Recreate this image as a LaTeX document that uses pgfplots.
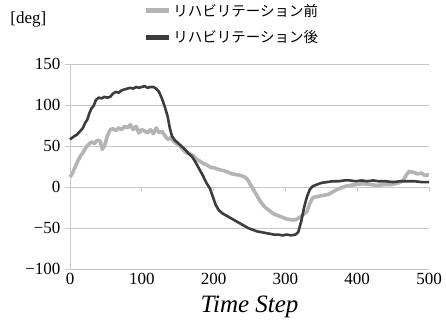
\documentclass[border=0pt]{standalone}
\usepackage{pgfplots}
\pgfplotsset{compat=1.18}
\usepackage{fontspec}
\setmainfont{Liberation Serif}
\newfontfamily\cjk{Noto Sans CJK JP}
\definecolor{before}{HTML}{B4B4B4}
\definecolor{after}{HTML}{3C3C3C}
\definecolor{gridc}{HTML}{C8C8C8}
\begin{document}
\begin{tikzpicture}
\begin{axis}[
  scale only axis, width=359pt, height=205pt,
  xmin=0, xmax=500, ymin=-100, ymax=150,
  xtick={0,100,...,500}, ytick={-100,-50,...,150},
  yticklabels={−100,−50,0,50,100,150},
  xticklabels={0,100,200,300,400,500},
  axis x line*=bottom, axis y line*=left,
  axis line style={gridc, line width=0.8pt, -},
  ymajorgrids, grid style={gridc, line width=0.8pt},
  y tick style={gridc, line width=0.8pt}, ytick align=outside, major tick length=5pt,
  x tick style={draw=none},
  tick label style={font=\fontsize{17}{19}\selectfont},
  yticklabel style={xshift=-1pt},
  xticklabel style={yshift=-1pt},
  xlabel={\fontsize{25}{27}\selectfont\itshape Time Step},
  xlabel style={yshift=-4pt},
  clip=false,
  legend style={at={(axis cs:102,226)}, anchor=north west, draw=none, fill=none,
    font=\cjk\fontsize{14.5}{16}\selectfont, row sep=9pt, inner sep=0pt},
  legend cell align=left,
  legend image code/.code={\draw[#1, line width=5pt] (0pt,0pt) -- (23pt,0pt);},
]
\addplot[before, line width=3.6pt, line join=round] coordinates {
(0,12)(3,16)(6,22)(10,30)(14,37)(18,42)(22,48)(26,52)(30,55)(34,53)(38,57)(42,56)(45,46)(48,50)(52,62)(56,70)(60,71)(64,69)(68,72)(72,70)(76,74)(80,72)(84,76)(88,70)(92,74)(96,66)(100,70)(104,68)(108,66)(112,70)(116,65)(120,72)(124,66)(128,68)(132,63)(136,58)(140,60)(144,56)(148,53)(152,51)(156,47)(160,43)(164,41)(168,40)(172,38)(176,34)(180,32)(185,29)(190,27)(196,24)(202,23)(208,21)(214,20)(220,18)(226,16)(232,15)(238,14)(244,12)(248,8)(252,2)(256,-4)(260,-10)(264,-16)(268,-21)(272,-25)(278,-29)(284,-33)(290,-35)(296,-37)(302,-39)(308,-40)(314,-40)(318,-38)(322,-36)(326,-33)(330,-30)(334,-20)(338,-13)(342,-12)(348,-11)(354,-10)(360,-9)(366,-6)(372,-3)(378,-1)(384,1)(390,2)(398,3)(408,4)(418,3)(428,2)(438,3)(448,3)(458,5)(464,8)(468,14)(472,19)(478,18)(484,16)(490,17)(494,14)(500,15)
};
\addlegendentry{リハビリテーション前}
\addplot[after, line width=2.6pt, line join=round] coordinates {
(0,58)(3,60)(6,62)(10,64)(14,68)(18,72)(21,78)(24,82)(27,90)(30,96)(33,99)(36,106)(40,109)(44,108)(48,110)(52,109)(56,110)(60,114)(64,116)(68,115)(72,118)(76,119)(80,120)(84,121)(88,120)(92,122)(96,121)(100,122)(104,123)(108,121)(112,122)(116,122)(120,120)(124,116)(128,108)(132,98)(136,86)(139,72)(142,62)(146,57)(150,54)(155,50)(160,46)(165,41)(170,37)(175,30)(180,22)(185,14)(190,5)(195,-2)(199,-12)(203,-22)(207,-28)(212,-32)(218,-35)(224,-38)(230,-41)(236,-44)(242,-47)(248,-50)(254,-52)(260,-54)(266,-55)(272,-56)(278,-57)(284,-58)(290,-58)(296,-59)(302,-58)(308,-59)(314,-58)(318,-55)(322,-42)(326,-25)(330,-12)(334,-3)(338,1)(344,3)(350,5)(358,6)(366,7)(374,7)(382,8)(390,8)(398,7)(406,8)(414,7)(422,8)(430,7)(440,7)(450,6)(460,7)(470,7)(480,7)(490,6)(500,6)
};
\addlegendentry{リハビリテーション後}
\pgfplotsinvokeforeach{100,200,300,400,500}{
  \draw[gridc, line width=0.8pt] (axis cs:#1,0) -- ++(0pt,-4pt);
}
\node[font=\fontsize{17}{19}\selectfont] at (axis cs:-58,204) {[deg]};
\end{axis}
\path (current axis.south west) ++(-70pt,-60pt) rectangle ++(446pt,329pt);
\end{tikzpicture}
\end{document}
